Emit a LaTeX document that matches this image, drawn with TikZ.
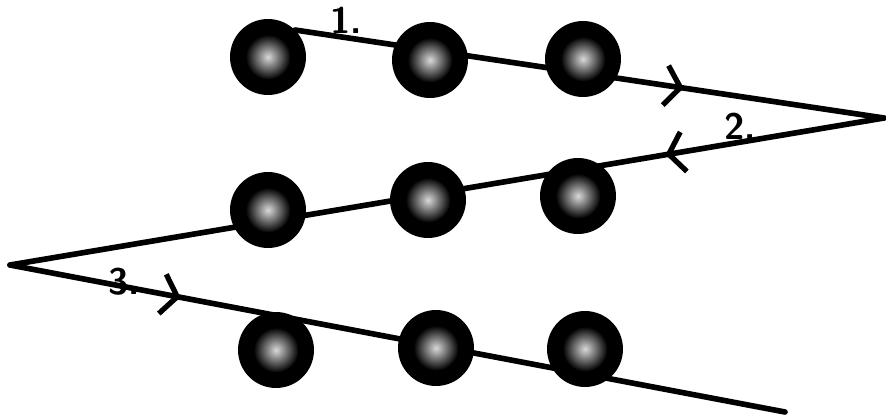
\documentclass[tikz,border=0pt]{standalone}
\usepackage{tikz}
\usetikzlibrary{arrows.meta, decorations.markings}

\tikzset{
  ball/.style={circle, fill=black, minimum size=1.52cm, inner sep=0pt},
  glow/.style={circle, inner color=white!85!black, outer color=black, minimum size=0.9cm, inner sep=0pt},
  zigline/.style={line width=3.2pt, line cap=round, line join=miter},
  flow/.style={postaction=decorate, decoration={markings,
      mark=at position #1 with {\arrow[line width=3pt]{Straight Barb[length=3mm, width=8mm]}}}},
  numlabel/.style={font=\fontsize{21}{21}\selectfont\sffamily\bfseries}
}

\begin{document}
\begin{tikzpicture}[x=0.02cm, y=-0.02cm]
  \useasboundingbox (0,0) rectangle (886,419);

  % Corners of the zigzag
  \coordinate (start) at (295,30);
  \coordinate (rtip) at (884,118);
  \coordinate (ltip) at (10,265);
  \coordinate (finish) at (785,412);

  \draw[zigline, flow=0.66] (start) -- (rtip);
  \draw[zigline, flow=0.25] (rtip) -- (ltip);
  \draw[zigline, flow=0.22] (ltip) -- (finish);

  % Balls, three rows
  \foreach \name/\x/\y in {a1/268/57, a2/430/60, a3/583/59,
                            b1/268/210, b2/428/200, b3/578/196,
                            c1/276/350, c2/436/348, c3/585/349} {
    \node[ball] (\name) at (\x,\y) {};
    \node[glow] (\name g) at (\name) {};
  }

  % Numbers
  \node[numlabel] (n1) at (346,20) {1.};
  \node[numlabel] (n2) at (740,126) {2.};
  \node[numlabel] (n3) at (124,282) {3.};
\end{tikzpicture}
\end{document}
